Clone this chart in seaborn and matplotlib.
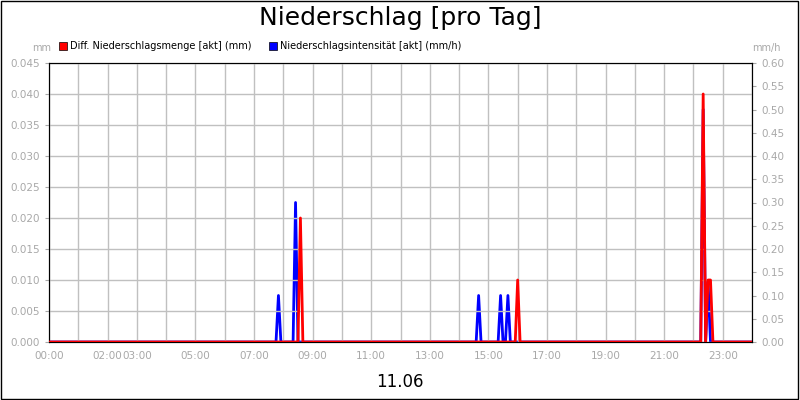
import matplotlib
matplotlib.use("Agg")
import matplotlib.pyplot as plt
import seaborn as sns
import numpy as np
import pandas as pd

sns.set_style("white")
plt.rcParams['font.family'] = ['DejaVu Sans']

# 5-minute sample times (hours) with non-zero values; all other samples are 0
menge_times = [8.583, 16.0, 22.333, 22.5, 22.583]
menge_vals = [0.020, 0.010, 0.040, 0.010, 0.010]
int_times = [7.833, 8.417, 14.667, 15.417, 15.667, 22.333, 22.5]
int_vals = [0.10, 0.30, 0.10, 0.10, 0.10, 0.50, 0.13]
xtick_hours = [0, 2, 3, 5, 7, 9, 11, 13, 15, 17, 19, 21, 23]
xtick_labels = ["00:00", "02:00", "03:00", "05:00", "07:00", "09:00", "11:00",
                "13:00", "15:00", "17:00", "19:00", "21:00", "23:00"]

t = np.round(np.arange(0, 24.0001, 1/12), 3)
def build(times, vals):
    s = pd.Series(0.0, index=t)
    for tt, v in zip(times, vals):
        idx = np.argmin(np.abs(t - tt))
        s.iloc[idx] = v
    return s
m = build(menge_times, menge_vals)
i = build(int_times, int_vals)
df_m = pd.DataFrame({"h": t, "v": m.values})
df_i = pd.DataFrame({"h": t, "v": i.values})

fig = plt.figure(figsize=(8, 4), dpi=100)
ax = fig.add_axes([49/800, 58/400, 703/800, 279/400])
ax2 = ax.twinx()
sns.lineplot(data=df_i, x="h", y="v", ax=ax2, color="#0000ff", lw=2)
sns.lineplot(data=df_m, x="h", y="v", ax=ax, color="#ff0000", lw=2, zorder=5)
ax.set_zorder(ax2.get_zorder() + 1); ax.patch.set_visible(False)

ax.set_xlim(0, 24); ax.set_ylim(0, 0.045); ax2.set_ylim(0, 0.60)
ax.set_yticks(np.arange(0, 0.0451, 0.005))
ax.set_yticklabels([f"{v:.3f}" for v in np.arange(0, 0.0451, 0.005)])
ax2.set_yticks(np.arange(0, 0.601, 0.05))
ax2.set_yticklabels([f"{v:.2f}" for v in np.arange(0, 0.601, 0.05)])
ax.set_xticks(range(0, 25), minor=False)
ax.set_xticklabels([xtick_labels[xtick_hours.index(h)] if h in xtick_hours else "" for h in range(25)])
ax.grid(True, color="#c0c0c0", lw=1)
for a in (ax, ax2):
    a.set_xlabel(""); a.set_ylabel("")
    a.tick_params(labelsize=7.5, labelcolor="#a8a8a8", color="#a8a8a8", length=3)
    for s in a.spines.values():
        s.set_color("black")
ax.tick_params(axis="x", direction="out")

fig.text(0.5, 0.955, "Niederschlag [pro Tag]", ha="center", va="center", fontsize=18, color="black")
fig.text(0.04, 0.88, "mm", fontsize=7, color="#a8a8a8", va="center")
fig.text(0.94, 0.88, "mm/h", fontsize=7, color="#a8a8a8", va="center")
fig.text(0.5, 0.045, "11.06", ha="center", va="center", fontsize=12, color="black")
fig.patches.append(plt.Rectangle((59/800, 0.875), 8/800, 8/400, facecolor="red", edgecolor="black", lw=0.5, transform=fig.transFigure))
fig.text(70/800, 0.885, "Diff. Niederschlagsmenge [akt] (mm)", fontsize=7, va="center", color="black")
fig.patches.append(plt.Rectangle((269/800, 0.875), 8/800, 8/400, facecolor="blue", edgecolor="black", lw=0.5, transform=fig.transFigure))
fig.text(280/800, 0.885, "Niederschlagsintensität [akt] (mm/h)", fontsize=7, va="center", color="black")
fig.patches.append(plt.Rectangle((0.001, 0.002), 0.997, 0.996, fill=False, edgecolor="black", lw=1, transform=fig.transFigure))

fig.savefig("out.png", dpi=100)
